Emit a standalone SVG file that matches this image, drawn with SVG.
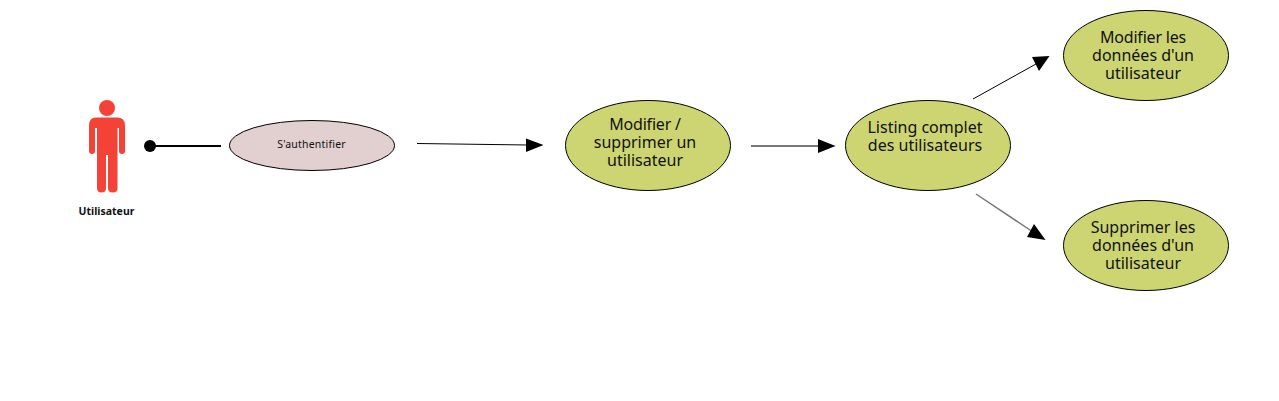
<svg xmlns="http://www.w3.org/2000/svg" width="1279" height="401" viewBox="0 0 1279 401">
<style>
text{font-family:"Noto Sans","Open Sans",sans-serif;fill:#111;text-anchor:middle}
.uc{fill:#cdd572;stroke:#000;stroke-width:1}
.t{font-size:16px}
.n{letter-spacing:-.2px}
.c{fill:none;stroke:#000}
.g{fill:none;stroke:#777}
.h{fill:#000;stroke:none}
.a{fill:#f44336}
</style>
<rect width="1279" height="401" fill="#fff"/>
<g id="connectors">
<circle class="h" cx="150" cy="146" r="6"/>
<line class="c" x1="150" y1="146" x2="221" y2="146" stroke-width="2"/>
<line class="c" x1="417" y1="143.500" x2="528" y2="145" stroke-width="1"/>
<polygon class="h" points="543.500,145 526,138.500 526,152"/>
<line class="g" x1="751" y1="146" x2="820" y2="146" stroke-width="2"/>
<polygon class="h" points="835.500,146 818,139 818,153"/>
<line class="c" x1="973" y1="99" x2="1036" y2="64" stroke-width="1"/>
<polygon class="h" points="1049.500,56 1032,57 1039,71"/>
<line class="g" x1="976" y1="194" x2="1033" y2="232" stroke-width="1.500"/>
<polygon class="h" points="1045.500,240 1034,224 1027,237"/>
</g>
<g id="actor">
<circle class="a" cx="107" cy="108" r="8"/>
<path class="a" d="M96 117.500H117Q125 117.500 125 125.500V151Q125 154 122 154Q119 154 119 151V128H117.500V188Q117.500 192.500 113 192.500Q108 192.500 108 188V155H106V188Q106 192.500 101.500 192.500Q97 192.500 97 188V128H95V151Q95 154 92 154Q89 154 89 151V125.500Q89 117.500 96 117.500Z"/>
<text x="106.500" y="215" font-size="10.500px" font-weight="700">Utilisateur</text>
</g>
<g id="auth">
<ellipse cx="312" cy="145.500" rx="82.500" ry="25" fill="#e2cfcf" stroke="#000"/>
<text x="311.500" y="148" font-size="10.500px" letter-spacing=".2px">S'authentifier</text>
</g>
<g id="modsup">
<ellipse class="uc" cx="648" cy="145.500" rx="82.500" ry="45"/>
<text class="t n" x="645" y="130">Modifier /</text>
<text class="t" x="645" y="148">supprimer un</text>
<text class="t" x="645" y="166">utilisateur</text>
</g>
<g id="listing">
<ellipse class="uc" cx="928" cy="145.500" rx="82.500" ry="45"/>
<text class="t" x="925" y="133">Listing complet</text>
<text class="t" x="925" y="151">des utilisateurs</text>
</g>
<g id="modifier">
<ellipse class="uc" cx="1146" cy="55.500" rx="82.500" ry="45"/>
<text class="t n" x="1143" y="43">Modifier les</text>
<text class="t" x="1143" y="61">données d'un</text>
<text class="t" x="1143" y="79">utilisateur</text>
</g>
<g id="supprimer">
<ellipse class="uc" cx="1146" cy="245.500" rx="82.500" ry="45"/>
<text class="t" x="1143" y="233">Supprimer les</text>
<text class="t" x="1143" y="251">données d'un</text>
<text class="t" x="1143" y="269">utilisateur</text>
</g>
</svg>
